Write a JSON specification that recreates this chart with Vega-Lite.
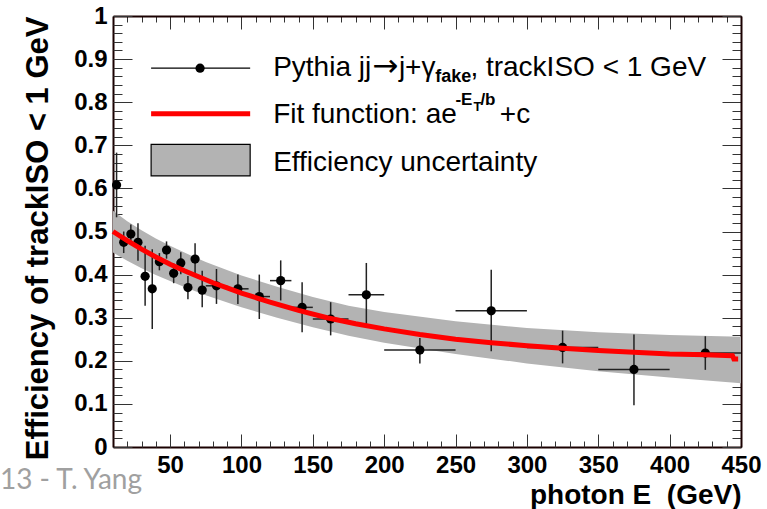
{
  "$schema": "https://vega.github.io/schema/vega-lite/v6.json",
  "width": 628,
  "height": 431,
  "autosize": "none",
  "padding": {"left": 113, "top": 16, "right": 26, "bottom": 62},
  "background": "white",
  "config": {
    "view": {"stroke": null},
    "axis": {
      "grid": false,
      "domain": false,
      "domainColor": "#1a0000",
      "domainWidth": 2,
      "tickColor": "#333333",
      "tickWidth": 1,
      "labelFont": "Liberation Sans",
      "labelFontWeight": "bold",
      "labelFontSize": 24,
      "labelColor": "black",
      "labelFlush": false,
      "labelOverlap": false,
      "titleFont": "Liberation Sans",
      "titleFontWeight": "bold",
      "titleColor": "black",
      "zindex": 1
    }
  },
  "datasets": {
    "pts": [
      {"x": 12.5, "xlo": 10, "xhi": 15, "y": 0.608, "ylo": 0.533, "yhi": 0.683},
      {"x": 17.5, "xlo": 15, "xhi": 20, "y": 0.475, "ylo": 0.45, "yhi": 0.5},
      {"x": 22.5, "xlo": 20, "xhi": 25, "y": 0.494, "ylo": 0.472, "yhi": 0.516},
      {"x": 27.5, "xlo": 25, "xhi": 30, "y": 0.475, "ylo": 0.432, "yhi": 0.519},
      {"x": 32.5, "xlo": 30, "xhi": 35, "y": 0.396, "ylo": 0.328, "yhi": 0.467},
      {"x": 37.5, "xlo": 35, "xhi": 40, "y": 0.367, "ylo": 0.274, "yhi": 0.459},
      {"x": 42.5, "xlo": 40, "xhi": 45, "y": 0.43, "ylo": 0.41, "yhi": 0.45},
      {"x": 47.5, "xlo": 45, "xhi": 50, "y": 0.457, "ylo": 0.437, "yhi": 0.477},
      {"x": 52.5, "xlo": 50, "xhi": 55, "y": 0.403, "ylo": 0.38, "yhi": 0.426},
      {"x": 57.5, "xlo": 55, "xhi": 60, "y": 0.427, "ylo": 0.401, "yhi": 0.452},
      {"x": 62.5, "xlo": 60, "xhi": 65, "y": 0.37, "ylo": 0.343, "yhi": 0.397},
      {"x": 67.5, "xlo": 65, "xhi": 70, "y": 0.436, "ylo": 0.401, "yhi": 0.473},
      {"x": 72.5, "xlo": 70, "xhi": 75, "y": 0.364, "ylo": 0.324, "yhi": 0.409},
      {"x": 82.5, "xlo": 75, "xhi": 90, "y": 0.374, "ylo": 0.332, "yhi": 0.413},
      {"x": 97.5, "xlo": 90, "xhi": 105, "y": 0.367, "ylo": 0.332, "yhi": 0.4},
      {"x": 112.5, "xlo": 105, "xhi": 120, "y": 0.349, "ylo": 0.297, "yhi": 0.4},
      {"x": 127.5, "xlo": 120, "xhi": 135, "y": 0.386, "ylo": 0.34, "yhi": 0.433},
      {"x": 142.5, "xlo": 135, "xhi": 150, "y": 0.324, "ylo": 0.266, "yhi": 0.382},
      {"x": 162.5, "xlo": 150, "xhi": 175, "y": 0.297, "ylo": 0.259, "yhi": 0.336},
      {"x": 187.5, "xlo": 175, "xhi": 200, "y": 0.353, "ylo": 0.279, "yhi": 0.427},
      {"x": 225, "xlo": 200, "xhi": 250, "y": 0.225, "ylo": 0.194, "yhi": 0.253},
      {"x": 275, "xlo": 250, "xhi": 300, "y": 0.316, "ylo": 0.222, "yhi": 0.411},
      {"x": 325, "xlo": 300, "xhi": 350, "y": 0.231, "ylo": 0.194, "yhi": 0.27},
      {"x": 375, "xlo": 350, "xhi": 400, "y": 0.18, "ylo": 0.097, "yhi": 0.261},
      {"x": 425, "xlo": 400, "xhi": 450, "y": 0.218, "ylo": 0.179, "yhi": 0.257}
    ],
    "band": [
      {"x": 10, "lo": 0.451, "hi": 0.548},
      {"x": 20, "lo": 0.432, "hi": 0.524},
      {"x": 30, "lo": 0.415, "hi": 0.503},
      {"x": 40, "lo": 0.399, "hi": 0.484},
      {"x": 50, "lo": 0.385, "hi": 0.467},
      {"x": 60, "lo": 0.371, "hi": 0.451},
      {"x": 75, "lo": 0.352, "hi": 0.429},
      {"x": 100, "lo": 0.324, "hi": 0.398},
      {"x": 125, "lo": 0.3, "hi": 0.372},
      {"x": 150, "lo": 0.278, "hi": 0.348},
      {"x": 175, "lo": 0.258, "hi": 0.328},
      {"x": 200, "lo": 0.242, "hi": 0.313},
      {"x": 250, "lo": 0.216, "hi": 0.292},
      {"x": 300, "lo": 0.194, "hi": 0.276},
      {"x": 350, "lo": 0.176, "hi": 0.266},
      {"x": 400, "lo": 0.161, "hi": 0.26},
      {"x": 450, "lo": 0.148, "hi": 0.256}
    ],
    "fit": [
      {"x": 10, "y": 0.5},
      {"x": 20, "y": 0.479},
      {"x": 30, "y": 0.459},
      {"x": 40, "y": 0.441},
      {"x": 50, "y": 0.424},
      {"x": 60, "y": 0.409},
      {"x": 70, "y": 0.395},
      {"x": 80, "y": 0.381},
      {"x": 90, "y": 0.369},
      {"x": 100, "y": 0.357},
      {"x": 120, "y": 0.336},
      {"x": 140, "y": 0.317},
      {"x": 160, "y": 0.3},
      {"x": 180, "y": 0.286},
      {"x": 200, "y": 0.274},
      {"x": 225, "y": 0.261},
      {"x": 250, "y": 0.25},
      {"x": 275, "y": 0.242},
      {"x": 300, "y": 0.235},
      {"x": 325, "y": 0.229},
      {"x": 350, "y": 0.224},
      {"x": 375, "y": 0.22},
      {"x": 400, "y": 0.216},
      {"x": 425, "y": 0.214},
      {"x": 444, "y": 0.212},
      {"x": 445, "y": 0.204},
      {"x": 448, "y": 0.204}
    ]
  },
  "layer": [
    {
      "data": {"name": "band"},
      "mark": {"type": "area", "color": "#b3b3b3", "opacity": 1},
      "encoding": {
        "x": {"field": "x", "type": "quantitative",
          "scale": {"domain": [10, 450], "nice": false, "zero": false},
          "axis": {"orient": "bottom", "values": [50, 100, 150, 200, 250, 300, 350, 400, 450],
            "ticks": false, "labelPadding": 6, "domain": true,
            "title": "photon E\u00a0 (GeV)", "titleAnchor": "end", "titleFontSize": 28, "titlePadding": 4}},
        "y": {"field": "lo", "type": "quantitative",
          "scale": {"domain": [0, 1], "nice": false, "zero": false},
          "axis": {"orient": "left", "values": [0, 0.1, 0.2, 0.3, 0.4, 0.5, 0.6, 0.7, 0.8, 0.9, 1],
            "format": "~g", "ticks": false, "labelPadding": 6, "domain": true,
            "title": "Efficiency of trackISO < 1 GeV", "titleAnchor": "end", "titleFontSize": 31, "titlePadding": 19}},
        "y2": {"field": "hi"}
      }
    },
    {
      "data": {"name": "pts"},
      "mark": {"type": "rule", "stroke": "#222222", "strokeWidth": 1.5},
      "encoding": {
        "x": {"field": "xlo", "type": "quantitative",
          "axis": {"orient": "bottom", "offset": -13, "tickSize": 13, "values": [50, 100, 150, 200, 250, 300, 350, 400, 450],
            "labels": false, "title": null}},
        "x2": {"field": "xhi"},
        "y": {"field": "y", "type": "quantitative",
          "axis": {"orient": "left", "offset": -19, "tickSize": 19, "values": [0, 0.1, 0.2, 0.3, 0.4, 0.5, 0.6, 0.7, 0.8, 0.9, 1],
            "labels": false, "title": null}}
      }
    },
    {
      "data": {"name": "pts"},
      "mark": {"type": "rule", "stroke": "#222222", "strokeWidth": 1.5},
      "encoding": {
        "x": {"field": "x", "type": "quantitative",
          "axis": {"orient": "bottom", "offset": -6, "tickSize": 6, "values": [10, 20, 30, 40, 50, 60, 70, 80, 90, 100, 110, 120, 130, 140, 150, 160, 170, 180, 190, 200, 210, 220, 230, 240, 250, 260, 270, 280, 290, 300, 310, 320, 330, 340, 350, 360, 370, 380, 390, 400, 410, 420, 430, 440, 450],
            "labels": false, "title": null}},
        "y": {"field": "ylo", "type": "quantitative",
          "axis": {"orient": "left", "offset": -9, "tickSize": 9, "values": [0, 0.02, 0.04, 0.06, 0.08, 0.1, 0.12, 0.14, 0.16, 0.18, 0.2, 0.22, 0.24, 0.26, 0.28, 0.3, 0.32, 0.34, 0.36, 0.38, 0.4, 0.42, 0.44, 0.46, 0.48, 0.5, 0.52, 0.54, 0.56, 0.58, 0.6, 0.62, 0.64, 0.66, 0.68, 0.7, 0.72, 0.74, 0.76, 0.78, 0.8, 0.82, 0.84, 0.86, 0.88, 0.9, 0.92, 0.94, 0.96, 0.98, 1],
            "labels": false, "title": null}},
        "y2": {"field": "yhi"}
      }
    },
    {
      "data": {"name": "pts"},
      "mark": {"type": "point", "filled": true, "color": "black", "size": 85, "opacity": 1},
      "encoding": {
        "x": {"field": "x", "type": "quantitative",
          "axis": {"orient": "top", "offset": -13, "tickSize": 13, "values": [50, 100, 150, 200, 250, 300, 350, 400, 450],
            "labels": false, "title": null}},
        "y": {"field": "y", "type": "quantitative",
          "axis": {"orient": "right", "offset": -19, "tickSize": 19, "values": [0, 0.1, 0.2, 0.3, 0.4, 0.5, 0.6, 0.7, 0.8, 0.9, 1],
            "labels": false, "title": null}}
      }
    },
    {
      "data": {"name": "fit"},
      "mark": {"type": "line", "color": "#ff0000", "strokeWidth": 5},
      "encoding": {
        "x": {"field": "x", "type": "quantitative",
          "axis": {"orient": "top", "offset": -6, "tickSize": 6, "values": [10, 20, 30, 40, 50, 60, 70, 80, 90, 100, 110, 120, 130, 140, 150, 160, 170, 180, 190, 200, 210, 220, 230, 240, 250, 260, 270, 280, 290, 300, 310, 320, 330, 340, 350, 360, 370, 380, 390, 400, 410, 420, 430, 440, 450],
            "labels": false, "title": null}},
        "y": {"field": "y", "type": "quantitative",
          "axis": {"orient": "right", "offset": -9, "tickSize": 9, "values": [0, 0.02, 0.04, 0.06, 0.08, 0.1, 0.12, 0.14, 0.16, 0.18, 0.2, 0.22, 0.24, 0.26, 0.28, 0.3, 0.32, 0.34, 0.36, 0.38, 0.4, 0.42, 0.44, 0.46, 0.48, 0.5, 0.52, 0.54, 0.56, 0.58, 0.6, 0.62, 0.64, 0.66, 0.68, 0.7, 0.72, 0.74, 0.76, 0.78, 0.8, 0.82, 0.84, 0.86, 0.88, 0.9, 0.92, 0.94, 0.96, 0.98, 1],
            "labels": false, "title": null}}
      }
    },
    {
      "data": {"values": [{}]},
      "mark": {"type": "rule", "stroke": "black", "strokeWidth": 1.2},
      "encoding": {
        "x": {"datum": 36.7, "type": "quantitative",
          "axis": {"orient": "top", "domain": true, "ticks": false, "labels": false, "title": null, "values": []}},
        "x2": {"datum": 106.1},
        "y": {"datum": 0.879, "type": "quantitative",
          "axis": {"orient": "right", "domain": true, "ticks": false, "labels": false, "title": null, "values": []}}
      }
    },
    {
      "data": {"values": [{}]},
      "mark": {"type": "point", "filled": true, "color": "black", "size": 85, "opacity": 1},
      "encoding": {
        "x": {"datum": 71, "type": "quantitative", "axis": null},
        "y": {"datum": 0.879, "type": "quantitative", "axis": null}
      }
    },
    {
      "data": {"values": [{}]},
      "mark": {"type": "rule", "stroke": "#ff0000", "strokeWidth": 5},
      "encoding": {
        "x": {"datum": 36.7, "type": "quantitative", "axis": null},
        "x2": {"datum": 106.1},
        "y": {"datum": 0.773, "type": "quantitative", "axis": null}
      }
    },
    {
      "data": {"values": [{}]},
      "mark": {"type": "rect", "fill": "#b3b3b3", "stroke": "black", "strokeWidth": 1.2},
      "encoding": {
        "x": {"datum": 36.7, "type": "quantitative", "axis": null},
        "x2": {"datum": 106.1},
        "y": {"datum": 0.629, "type": "quantitative", "axis": null},
        "y2": {"datum": 0.702}
      }
    },
    {
      "data": {"values": [{"t": "Pythia jj"}]},
      "mark": {"type": "text", "align": "left", "baseline": "alphabetic", "font": "Liberation Sans", "fontSize": 28, "color": "black"},
      "encoding": {
        "x": {"datum": 122.2, "type": "quantitative", "axis": null},
        "y": {"datum": 0.861, "type": "quantitative", "axis": null},
        "text": {"field": "t"}
      }
    },
    {
      "data": {"values": [{"t": "\u2192"}]},
      "mark": {"type": "text", "align": "left", "baseline": "alphabetic", "font": "DejaVu Sans", "fontSize": 31, "color": "black"},
      "encoding": {
        "x": {"datum": 191.7, "type": "quantitative", "axis": null},
        "y": {"datum": 0.861, "type": "quantitative", "axis": null},
        "text": {"field": "t"}
      }
    },
    {
      "data": {"values": [{"t": "j+\u03b3"}]},
      "mark": {"type": "text", "align": "left", "baseline": "alphabetic", "font": "Liberation Sans", "fontSize": 28, "color": "black"},
      "encoding": {
        "x": {"datum": 210.3, "type": "quantitative", "axis": null},
        "y": {"datum": 0.861, "type": "quantitative", "axis": null},
        "text": {"field": "t"}
      }
    },
    {
      "data": {"values": [{"t": "fake"}]},
      "mark": {"type": "text", "align": "left", "baseline": "alphabetic", "font": "Liberation Sans", "fontWeight": "bold", "fontSize": 18, "color": "black"},
      "encoding": {
        "x": {"datum": 235.8, "type": "quantitative", "axis": null},
        "y": {"datum": 0.847, "type": "quantitative", "axis": null},
        "text": {"field": "t"}
      }
    },
    {
      "data": {"values": [{"t": ", trackISO < 1 GeV"}]},
      "mark": {"type": "text", "align": "left", "baseline": "alphabetic", "font": "Liberation Sans", "fontSize": 28, "color": "black"},
      "encoding": {
        "x": {"datum": 260.4, "type": "quantitative", "axis": null},
        "y": {"datum": 0.861, "type": "quantitative", "axis": null},
        "text": {"field": "t"}
      }
    },
    {
      "data": {"values": [{"t": "Fit function: ae"}]},
      "mark": {"type": "text", "align": "left", "baseline": "alphabetic", "font": "Liberation Sans", "fontSize": 28, "color": "black"},
      "encoding": {
        "x": {"datum": 122.2, "type": "quantitative", "axis": null},
        "y": {"datum": 0.751, "type": "quantitative", "axis": null},
        "text": {"field": "t"}
      }
    },
    {
      "data": {"values": [{"t": "-E"}]},
      "mark": {"type": "text", "align": "left", "baseline": "alphabetic", "font": "Liberation Sans", "fontWeight": "bold", "fontSize": 17, "color": "black"},
      "encoding": {
        "x": {"datum": 249.9, "type": "quantitative", "axis": null},
        "y": {"datum": 0.7935, "type": "quantitative", "axis": null},
        "text": {"field": "t"}
      }
    },
    {
      "data": {"values": [{"t": "T"}]},
      "mark": {"type": "text", "align": "left", "baseline": "alphabetic", "font": "Liberation Sans", "fontWeight": "bold", "fontSize": 13, "color": "black"},
      "encoding": {
        "x": {"datum": 262.5, "type": "quantitative", "axis": null},
        "y": {"datum": 0.7796, "type": "quantitative", "axis": null},
        "text": {"field": "t"}
      }
    },
    {
      "data": {"values": [{"t": "/b"}]},
      "mark": {"type": "text", "align": "left", "baseline": "alphabetic", "font": "Liberation Sans", "fontWeight": "bold", "fontSize": 17, "color": "black"},
      "encoding": {
        "x": {"datum": 267.4, "type": "quantitative", "axis": null},
        "y": {"datum": 0.7935, "type": "quantitative", "axis": null},
        "text": {"field": "t"}
      }
    },
    {
      "data": {"values": [{"t": "+c"}]},
      "mark": {"type": "text", "align": "left", "baseline": "alphabetic", "font": "Liberation Sans", "fontSize": 28, "color": "black"},
      "encoding": {
        "x": {"datum": 281, "type": "quantitative", "axis": null},
        "y": {"datum": 0.751, "type": "quantitative", "axis": null},
        "text": {"field": "t"}
      }
    },
    {
      "data": {"values": [{"t": "Efficiency uncertainty"}]},
      "mark": {"type": "text", "align": "left", "baseline": "alphabetic", "font": "Liberation Sans", "fontSize": 28, "color": "black"},
      "encoding": {
        "x": {"datum": 122.2, "type": "quantitative", "axis": null},
        "y": {"datum": 0.64, "type": "quantitative", "axis": null},
        "text": {"field": "t"}
      }
    },
    {
      "data": {"values": [{"t": "13 - T. Yang"}]},
      "mark": {"type": "text", "align": "left", "baseline": "alphabetic", "font": "Lato", "fontSize": 28, "color": "#a0a0a0"},
      "encoding": {
        "x": {"datum": -69.2, "type": "quantitative", "axis": null},
        "y": {"datum": -0.0974, "type": "quantitative", "axis": null},
        "text": {"field": "t"}
      }
    }
  ],
  "resolve": {"axis": {"x": "independent", "y": "independent"}}
}
